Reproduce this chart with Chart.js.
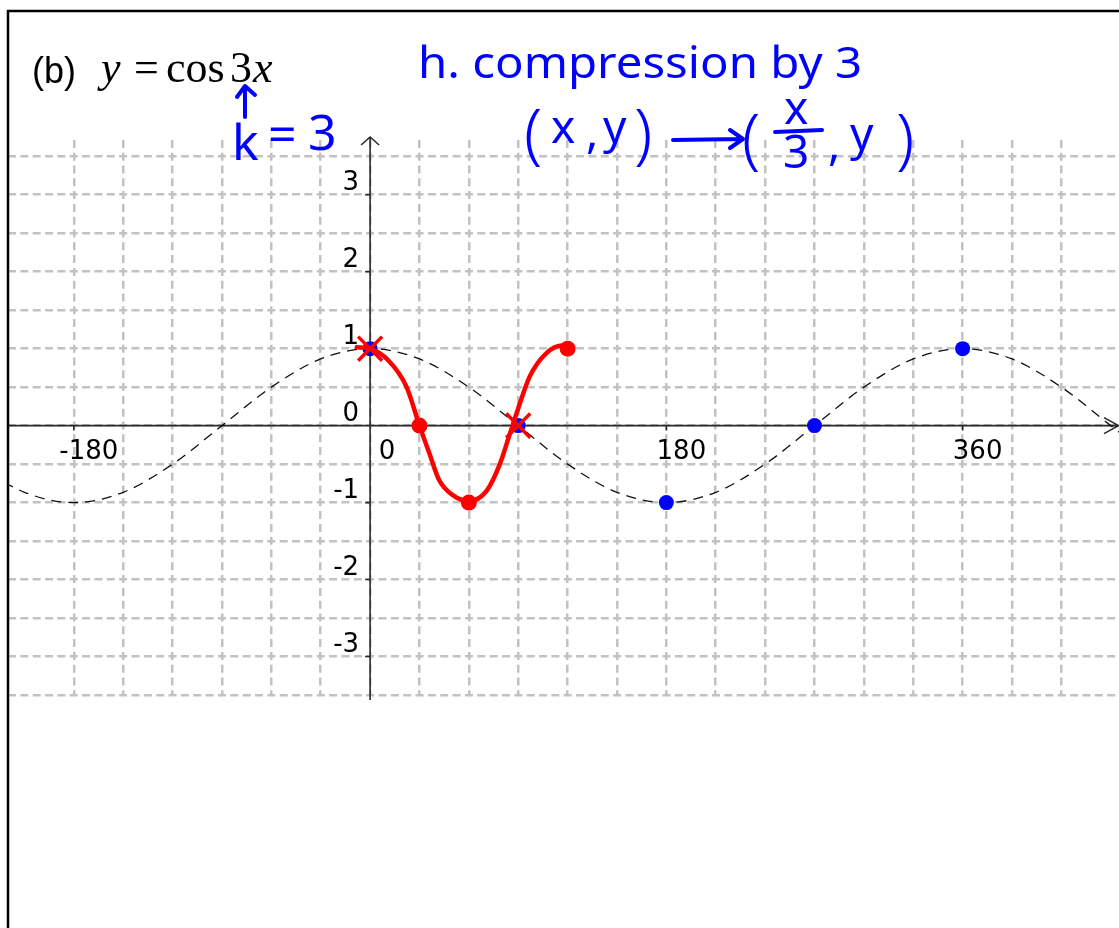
<!DOCTYPE html>
<html>
<head>
<meta charset="utf-8">
<title>y = cos 3x</title>
<script src="https://cdn.jsdelivr.net/npm/chart.js@4.4.1/dist/chart.umd.min.js"></script>
<style>
  html, body { margin: 0; padding: 0; background: #fff; }
  #wrap { position: relative; width: 1119px; height: 928px; }
</style>
</head>
<body>
<div id="wrap"><canvas id="graph" width="1119" height="928"></canvas></div>
<script>
// parent curve y = cos x, every 30 degrees
var baseX = [-240, -210, -180, -150, -120, -90, -60, -30, 0, 30, 60, 90, 120,
             150, 180, 210, 240, 270, 300, 330, 360, 390, 420, 450, 480];
var baseY = [-0.5, -0.866, -1, -0.866, -0.5, 0, 0.5, 0.866, 1, 0.866, 0.5, 0, -0.5,
             -0.866, -1, -0.866, -0.5, 0, 0.5, 0.866, 1, 0.866, 0.5, 0, -0.5];

// hand sketch of y = cos 3x
var sketchX = [-8, 0, 11, 22, 30, 36, 42, 50, 60, 71, 79, 85, 89, 97, 107, 117, 122];
var sketchY = [1.02, 1, 0.85, 0.51, 0, -0.36, -0.71, -0.9, -0.98, -0.84, -0.49, -0.1, 0.16, 0.64, 0.94, 1.04, 1];

// key points
var redDotX = [30, 60, 120];
var redDotY = [0, -1, 1];
var crossX = [0, 90];
var crossY = [1, 0];
var blueX = [0, 90, 180, 270, 360];
var blueY = [1, 0, -1, 0, 1];

// axis labels
var xTickValues = [-180, 0, 180, 360];
var xTickLabels = ["-180", "0", "180", "360"];
var yTickValues = [-3, -2, -1, 0, 1, 2, 3];
var yTickLabels = ["-3", "-2", "-1", "0", "1", "2", "3"];

var RED = "#ff0000";
var BLUE = "#0000ff";
var AXIS = "#2a2a2a";
var GRID = "#c2c2c2";

function pts(xs, ys) {
    return xs.map(function (x, i) { return { x: x, y: ys[i] }; });
}

var axesPlugin = {
    id: "axes",
    beforeDatasetsDraw: function (chart) {
        var ctx = chart.ctx;
        var xs = chart.scales.x, ys = chart.scales.y, area = chart.chartArea;
        var x0 = xs.getPixelForValue(0), y0 = ys.getPixelForValue(0);
        ctx.save();
        ctx.strokeStyle = AXIS;
        ctx.lineWidth = 1.6;
        ctx.beginPath();
        ctx.moveTo(area.left, y0);
        ctx.lineTo(area.right, y0);
        ctx.moveTo(area.right - 15, y0 - 8);
        ctx.lineTo(area.right - 0.5, y0);
        ctx.lineTo(area.right - 15, y0 + 8);
        ctx.moveTo(x0, area.bottom + 5);
        ctx.lineTo(x0, area.top);
        ctx.moveTo(x0 - 9, area.top + 8);
        ctx.lineTo(x0, area.top);
        ctx.lineTo(x0 + 9, area.top + 8);
        // tick marks
        xTickValues.forEach(function (v) {
            if (v === 0) return;
            var px = xs.getPixelForValue(v);
            ctx.moveTo(px, y0);
            ctx.lineTo(px, y0 + 5);
        });
        yTickValues.forEach(function (v) {
            if (v === 0) return;
            var py = ys.getPixelForValue(v);
            ctx.moveTo(x0, py);
            ctx.lineTo(x0 - 5, py);
        });
        ctx.stroke();

        ctx.fillStyle = "#000";
        ctx.font = "26px 'DejaVu Sans'";
        ctx.textBaseline = "alphabetic";
        ctx.textAlign = "center";
        xTickValues.forEach(function (v, i) {
            var px = xs.getPixelForValue(v) + (v === 0 ? 17 : 15);
            ctx.fillText(xTickLabels[i], px, y0 + 33);
        });
        ctx.textAlign = "right";
        yTickValues.forEach(function (v, i) {
            var py = ys.getPixelForValue(v);
            ctx.fillText(yTickLabels[i], x0 - 11, py - 5);
        });
        ctx.restore();
    }
};

var notesPlugin = {
    id: "notes",
    afterDraw: function (chart) {
        var ctx = chart.ctx;
        ctx.save();
        // frame
        ctx.strokeStyle = "#000";
        ctx.lineWidth = 2.5;
        ctx.strokeRect(8, 11, 1300, 1000);

        // title
        ctx.fillStyle = "#000";
        ctx.textBaseline = "alphabetic";
        ctx.textAlign = "left";
        ctx.font = "36px 'Liberation Sans'";
        ctx.fillText("(b)", 32, 83);
        ctx.font = "italic 44px 'Liberation Serif'";
        ctx.fillText("y", 101, 82);
        ctx.font = "44px 'Liberation Serif'";
        ctx.fillText("=", 134, 82);
        ctx.fillText("cos", 166, 82);
        ctx.fillText("3", 230, 82);
        ctx.font = "italic 44px 'Liberation Serif'";
        ctx.fillText("x", 253, 82);

        // handwritten notes
        ctx.fillStyle = BLUE;
        ctx.strokeStyle = BLUE;
        ctx.lineCap = "round";
        ctx.lineJoin = "round";
        ctx.lineWidth = 4;

        ctx.beginPath();
        ctx.moveTo(245, 117);
        ctx.lineTo(245, 87);
        ctx.moveTo(237, 97);
        ctx.lineTo(245, 86);
        ctx.lineTo(255, 95);
        ctx.stroke();

        ctx.font = "50px 'Noto Sans'";
        ctx.fillText("k", 232, 160);
        ctx.fillText("=", 268, 152);
        ctx.fillText("3", 308, 150);

        ctx.font = "44px 'Noto Sans'";
        var line1 = "h. compression by 3";
        var w = ctx.measureText(line1).width;
        ctx.save();
        ctx.translate(418, 78);
        ctx.scale(444 / w, 1);
        ctx.fillText(line1, 0, 0);
        ctx.restore();

        ctx.font = "300 66px 'Noto Sans'";
        ctx.fillText("(", 524, 156);
        ctx.fillText(")", 634, 156);
        ctx.fillText("(", 742, 161);
        ctx.fillText(")", 896, 161);
        ctx.font = "46px 'Noto Sans'";
        ctx.fillText("x", 551, 143);
        ctx.fillText(",", 586, 148);
        ctx.fillText("y", 603, 143);
        ctx.fillText("x", 784, 124);
        ctx.fillText("3", 783, 168);
        ctx.fillText(",", 828, 160);
        ctx.fillText("y", 850, 150);

        ctx.beginPath();
        ctx.moveTo(775, 132);
        ctx.lineTo(822, 130);
        ctx.moveTo(673, 140);
        ctx.lineTo(742, 139);
        ctx.moveTo(730, 130);
        ctx.lineTo(743, 139);
        ctx.lineTo(730, 148);
        ctx.stroke();
        ctx.restore();
    }
};

var chart = new Chart(document.getElementById("graph"), {
    type: "line",
    data: {
        datasets: [
            {
                label: "crosses",
                data: pts(crossX, crossY),
                showLine: false,
                pointStyle: "crossRot",
                pointRadius: 17,
                pointBorderWidth: 3.5,
                pointBorderColor: RED,
                pointBackgroundColor: RED
            },
            {
                label: "red points",
                data: pts(redDotX, redDotY),
                showLine: false,
                pointRadius: 8,
                pointBorderWidth: 0,
                pointBackgroundColor: RED
            },
            {
                label: "y = cos 3x",
                data: pts(sketchX, sketchY),
                borderColor: RED,
                borderWidth: 4.5,
                pointRadius: 0,
                cubicInterpolationMode: "monotone",
                borderCapStyle: "round",
                fill: false
            },
            {
                label: "blue points",
                data: pts(blueX, blueY),
                showLine: false,
                pointRadius: 7.5,
                pointBorderWidth: 0,
                pointBackgroundColor: BLUE
            },
            {
                label: "y = cos x",
                data: pts(baseX, baseY),
                borderColor: "#111",
                borderWidth: 1.3,
                borderDash: [10, 7],
                pointRadius: 0,
                cubicInterpolationMode: "monotone",
                fill: false
            }
        ]
    },
    options: {
        responsive: false,
        animation: false,
        events: [],
        layout: { autoPadding: false, padding: { left: 8, top: 137, right: 0, bottom: 233 } },
        plugins: {
            legend: { display: false },
            tooltip: { enabled: false },
            title: { display: false }
        },
        scales: {
            x: {
                type: "linear",
                min: -220,
                max: 455,
                afterBuildTicks: function (axis) {
                    axis.ticks = axis.ticks.filter(function (t) { return t.value % 30 === 0; });
                },
                ticks: { stepSize: 30, display: false },
                grid: { color: GRID, lineWidth: 2.5, drawTicks: false },
                border: { display: false, dash: [8, 4.8], dashOffset: 9.9 }
            },
            y: {
                type: "linear",
                min: -3.5,
                max: 3.75,
                afterBuildTicks: function (axis) {
                    axis.ticks = axis.ticks.filter(function (t) { return Math.abs(t.value * 2 - Math.round(t.value * 2)) < 1e-9; });
                },
                ticks: { stepSize: 0.5, display: false },
                grid: { color: GRID, lineWidth: 2.5, drawTicks: false },
                border: { display: false, dash: [8, 4.35], dashOffset: 0 }
            }
        }
    },
    plugins: [axesPlugin, notesPlugin]
});
</script>
</body>
</html>
